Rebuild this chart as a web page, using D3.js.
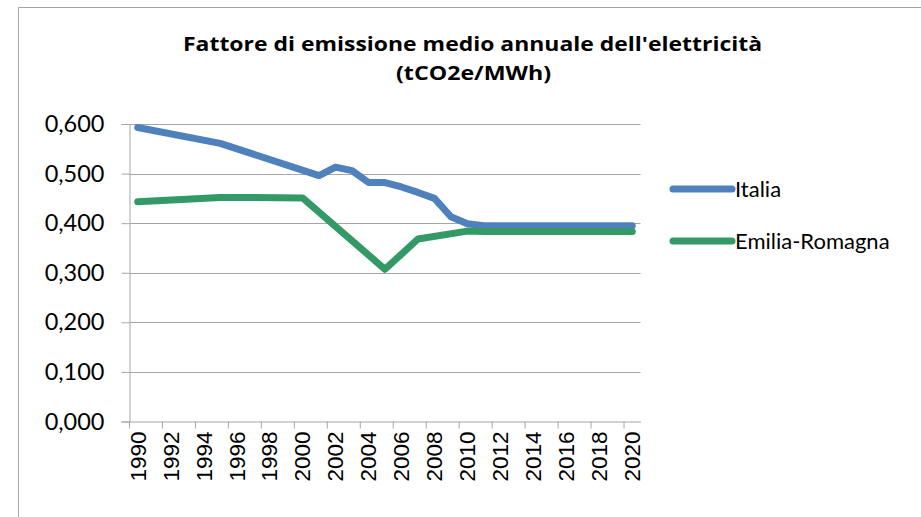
<!DOCTYPE html>
<html lang="it">
<head>
<meta charset="UTF-8">
<title>Fattore di emissione medio annuale dell'elettricità</title>
<script src="https://d3js.org/d3.v7.min.js"></script>
<style>
  body { margin: 0; background: #fff; }
  svg { display: block; }
  .lbl { font-family: Lato, "Liberation Sans", sans-serif; fill: #000; }
  .xl { font-family: "Liberation Sans", Arial, sans-serif; fill: #000; }
  .title { font-family: "Open Sans", "DejaVu Sans", sans-serif; font-weight: bold; fill: #000; }
</style>
</head>
<body>
<svg width="921" height="517"></svg>
<script>
// years on the category axis
const years = d3.range(1990, 2021);

// values (null = no visible point, gap is bridged like in Excel)
const italia = [
  0.593, null, null, null, null, 0.561, null, null, null, null,
  null, 0.496, 0.513, 0.506, 0.482, 0.482, 0.473, 0.462, 0.450, 0.413,
  0.399, 0.395, 0.395, 0.395, 0.395, 0.395, 0.395, 0.395, 0.395, 0.395, 0.395
];
const emilia = [
  0.443, null, null, null, null, 0.452, null, null, null, null,
  0.451, null, null, null, null, 0.307, null, 0.368, null, null,
  0.384, 0.383, 0.383, 0.383, 0.383, 0.383, 0.383, 0.383, 0.383, 0.383, 0.383
];

const yTicks = [0, 0.1, 0.2, 0.3, 0.4, 0.5, 0.6];

const series = [
  { name: "Italia", values: italia, color: "#4f81bd" },
  { name: "Emilia-Romagna", values: emilia, color: "#339966" }
];

const svg = d3.select("svg");

// outer frame of the chart area (only top and left visible)
svg.append("path")
  .attr("d", "M18.5,517 V7.5 H921")
  .attr("fill", "none")
  .attr("stroke", "#a6a6a6")
  .attr("stroke-width", 1);

// title
svg.append("text").attr("class", "title")
  .attr("x", 472.5).attr("y", 51)
  .attr("text-anchor", "middle")
  .attr("font-size", 19.5)
  .attr("textLength", 579).attr("lengthAdjust", "spacingAndGlyphs")
  .text("Fattore di emissione medio annuale dell'elettricità");
svg.append("text").attr("class", "title")
  .attr("x", 473.5).attr("y", 80)
  .attr("text-anchor", "middle")
  .attr("font-size", 19.5)
  .attr("textLength", 155).attr("lengthAdjust", "spacingAndGlyphs")
  .text("(tCO2e/MWh)");

// scales
const x = d3.scaleBand().domain(years).range([129.5, 640.5]).paddingInner(0).paddingOuter(0);
const y = d3.scaleLinear().domain([0, 0.6]).range([421.5, 124]);
const cx = d => x(d) + x.bandwidth() / 2;

// gridlines
svg.append("g")
  .selectAll("line")
  .data(yTicks.slice(1))
  .join("line")
  .attr("x1", 129.5).attr("x2", 640.5)
  .attr("y1", d => Math.round(y(d)) + 0.5).attr("y2", d => Math.round(y(d)) + 0.5)
  .attr("stroke", "#a6a6a6");

// y axis
const yAxis = svg.append("g")
  .attr("transform", "translate(129.5,0)")
  .call(d3.axisLeft(y).tickValues(yTicks).tickSize(8).tickPadding(17)
    .tickFormat(d => d3.format(".3f")(d).replace(".", ",")));
yAxis.select(".domain").attr("stroke", "#a6a6a6");
yAxis.selectAll(".tick line").attr("stroke", "#a6a6a6");
yAxis.selectAll(".tick text")
  .attr("class", "lbl")
  .attr("font-size", 23.5)
  .attr("fill", "#000");

// x axis: labels centred in each category, tick marks at category edges
const xAxis = svg.append("g")
  .attr("transform", "translate(0,421.5)")
  .call(d3.axisBottom(x).tickValues(years.filter(d => d % 2 === 0)).tickSize(0));
xAxis.select(".domain").attr("stroke", "#a6a6a6");
xAxis.selectAll(".tick text")
  .attr("class", "xl")
  .attr("font-size", 22.5)
  .attr("fill", "#000")
  .attr("text-anchor", "end")
  .attr("dy", "0.35em")
  .attr("y", 0)
  .attr("transform", "translate(0,10) rotate(-90)");
xAxis.selectAll(".tick")
  .append("line")
  .attr("x1", -x.bandwidth() / 2).attr("x2", -x.bandwidth() / 2)
  .attr("y1", 0).attr("y2", 7)
  .attr("stroke", "#a6a6a6");

// lines
const line = d3.line()
  .x(d => cx(d.year))
  .y(d => y(d.value));

series.forEach(s => {
  const pts = years.map((yr, i) => ({ year: yr, value: s.values[i] }))
    .filter(d => d.value !== null);
  svg.append("path")
    .datum(pts)
    .attr("d", line)
    .attr("fill", "none")
    .attr("stroke", s.color)
    .attr("stroke-width", 7)
    .attr("stroke-linejoin", "round")
    .attr("stroke-linecap", "round");
});

// legend
const legend = svg.append("g")
  .selectAll("g")
  .data(series)
  .join("g")
  .attr("transform", (d, i) => `translate(673,${189 + i * 52})`);
legend.append("line")
  .attr("x1", 0).attr("x2", 59)
  .attr("stroke", d => d.color)
  .attr("stroke-width", 7)
  .attr("stroke-linecap", "round");
legend.append("text")
  .attr("class", "lbl")
  .attr("x", 62).attr("dy", "0.35em")
  .attr("font-size", 22)
  .text(d => d.name);
</script>
</body>
</html>
